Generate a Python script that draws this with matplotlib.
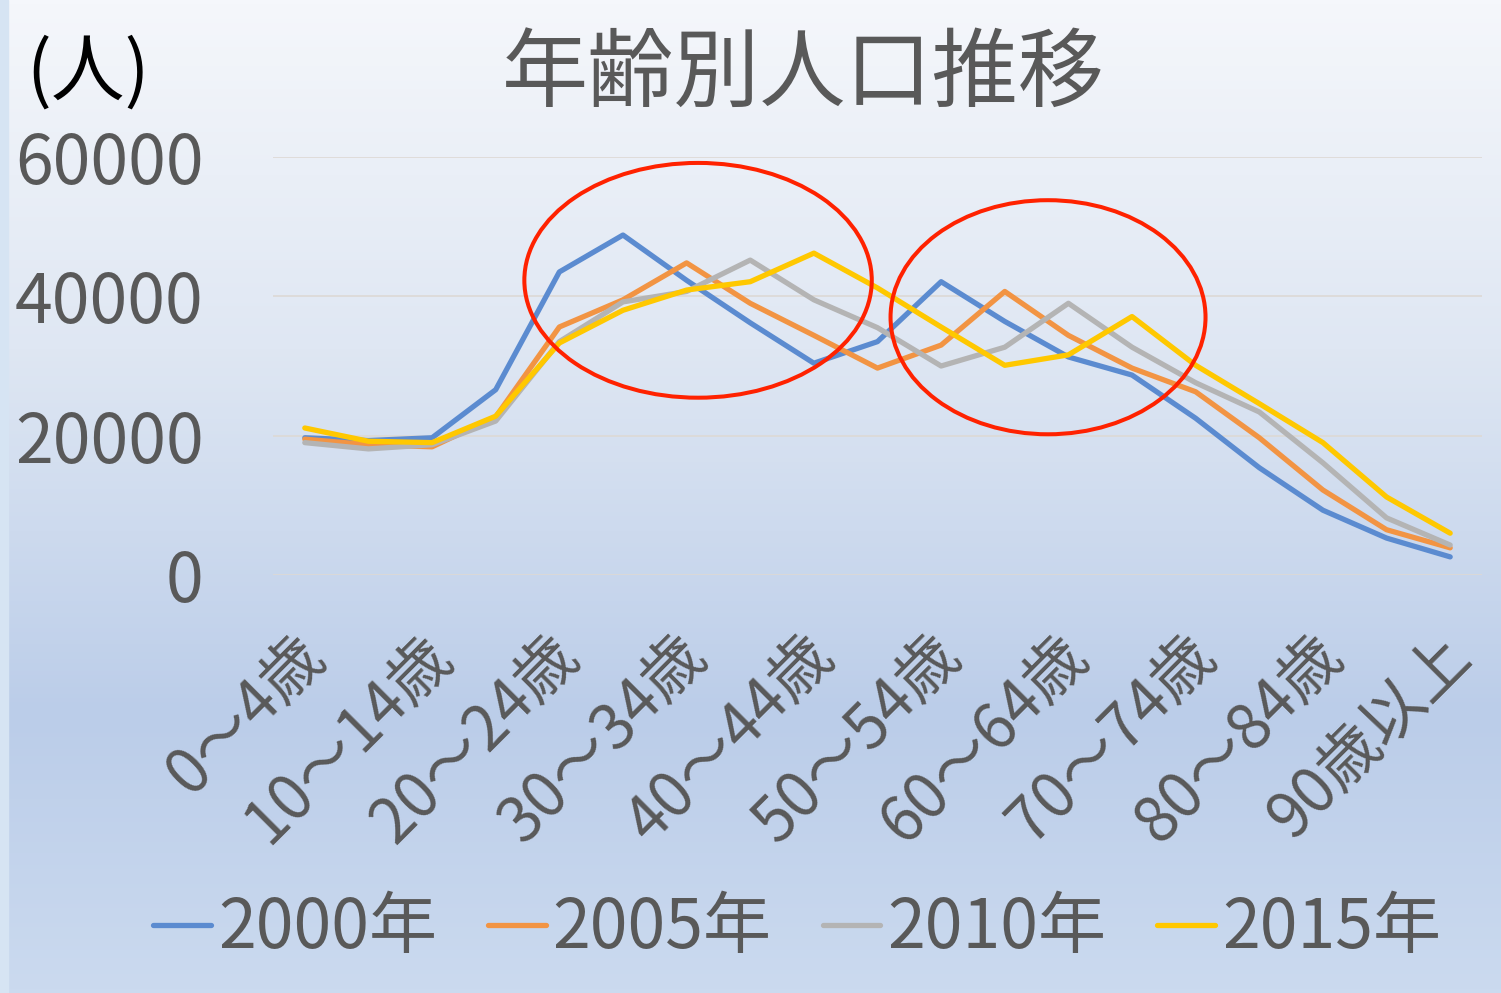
import numpy as np
import matplotlib
matplotlib.use('Agg')
import matplotlib.pyplot as plt
from matplotlib.patches import Ellipse, Rectangle
from matplotlib.colors import LinearSegmentedColormap
from matplotlib.transforms import ScaledTranslation

plt.rcParams['font.family'] = ['Noto Sans CJK JP', 'DejaVu Sans']

# 年齢階級 (19区分)
ages = ['0～4歳', '5～9歳', '10～14歳', '15～19歳', '20～24歳', '25～29歳',
        '30～34歳', '35～39歳', '40～44歳', '45～49歳', '50～54歳', '55～59歳',
        '60～64歳', '65～69歳', '70～74歳', '75～79歳', '80～84歳', '85～89歳',
        '90歳以上']

pop_2000 = [19700, 19300, 19700, 26600, 43500, 48800, 42300, 36200, 30400, 33500,
            42100, 36400, 31300, 28700, 22500, 15400, 9300, 5300, 2600]
pop_2005 = [19500, 18700, 18400, 22700, 35600, 39500, 44800, 39000, 34400, 29700,
            33000, 40700, 34400, 29700, 26300, 19700, 12200, 6500, 3900]
pop_2010 = [19000, 18100, 18700, 22100, 33500, 39200, 40700, 45200, 39500, 35500,
            30000, 32700, 39000, 32700, 27600, 23400, 16100, 8200, 4300]
pop_2015 = [21100, 19200, 19000, 22800, 33300, 38000, 40900, 42100, 46200, 41200,
            35600, 30100, 31600, 37100, 30100, 24600, 19000, 11200, 6000]

series = [('2000年', pop_2000, '#5B8BD0'),
          ('2005年', pop_2005, '#F29443'),
          ('2010年', pop_2010, '#B4B4B4'),
          ('2015年', pop_2015, '#FFC800')]

# 注目範囲の楕円 (中心x, 中心y, 幅, 高さ)
circles = [(6.18, 42300, 5.46, 33700), (11.68, 37000, 4.95, 33600)]

TXT = '#595959'

fig = plt.figure(figsize=(15.01, 9.93), dpi=100)

# background gradient
bg = fig.add_axes([0, 0, 1, 1], zorder=-10)
cmap = LinearSegmentedColormap.from_list('bg', [(0, '#F5F7FB'), (0.35, '#DFE7F3'),
                                                (0.72, '#BBCDE9'), (1, '#CBDAEF')])
grad = np.linspace(0, 1, 256).reshape(-1, 1)
bg.imshow(grad, aspect='auto', cmap=cmap, extent=[0, 1, 0, 1], origin='upper')
bg.add_patch(Rectangle((0, 0), 8 / 1501, 1, color='#D6E4F3'))
bg.set_xlim(0, 1)
bg.set_ylim(0, 1)
bg.axis('off')

ax = fig.add_axes([273 / 1501, 418 / 993, (1482 - 273) / 1501, 418 / 993])
ax.patch.set_alpha(0)
x = np.arange(len(ages))
for name, vals, col in series:
    ax.plot(x, vals, color=col, lw=3.8, label=name, solid_capstyle='round', zorder=3)

for cx, cy, w, h in circles:
    ax.add_patch(Ellipse((cx, cy), w, h, fill=False, ec='#FF2200', lw=2.9,
                         zorder=4, clip_on=False))

ax.set_xlim(-0.5, len(ages) - 0.5)
ax.set_ylim(0, 60000)
ax.set_yticks([0, 20000, 40000, 60000])
ax.set_yticklabels(['0', '20000', '40000', '60000'])
ax.grid(axis='y', color='#DDD9D5', lw=1.2)
ax.set_axisbelow(True)
for s in ax.spines.values():
    s.set_visible(False)
ax.tick_params(axis='y', length=0, pad=50, labelsize=49, labelcolor=TXT)

ax.set_xticks(x[::2])
ax.set_xticklabels(ages[::2], rotation=45, ha='right', va='center',
                   rotation_mode='anchor')
ax.tick_params(axis='x', length=0, pad=51, labelsize=45, labelcolor=TXT)
off = ScaledTranslation(10 / 100, 0, fig.dpi_scale_trans)
for lab in ax.get_xticklabels():
    lab.set_transform(lab.get_transform() + off)

fig.text(0.535, 1 - 76 / 993, '年齢別人口推移', ha='center', va='center',
         fontsize=62, color=TXT)
fig.text(26 / 1501, 1 - 74 / 993, '(人)', ha='left', va='center',
         fontsize=53, color='black')

fig.legend(loc='center', bbox_to_anchor=(0.531, 0.064), ncol=4, frameon=False,
           fontsize=49, labelcolor=TXT, handlelength=0.85, handletextpad=0.1,
           columnspacing=0.75)

plt.savefig('out.png', dpi=100)
